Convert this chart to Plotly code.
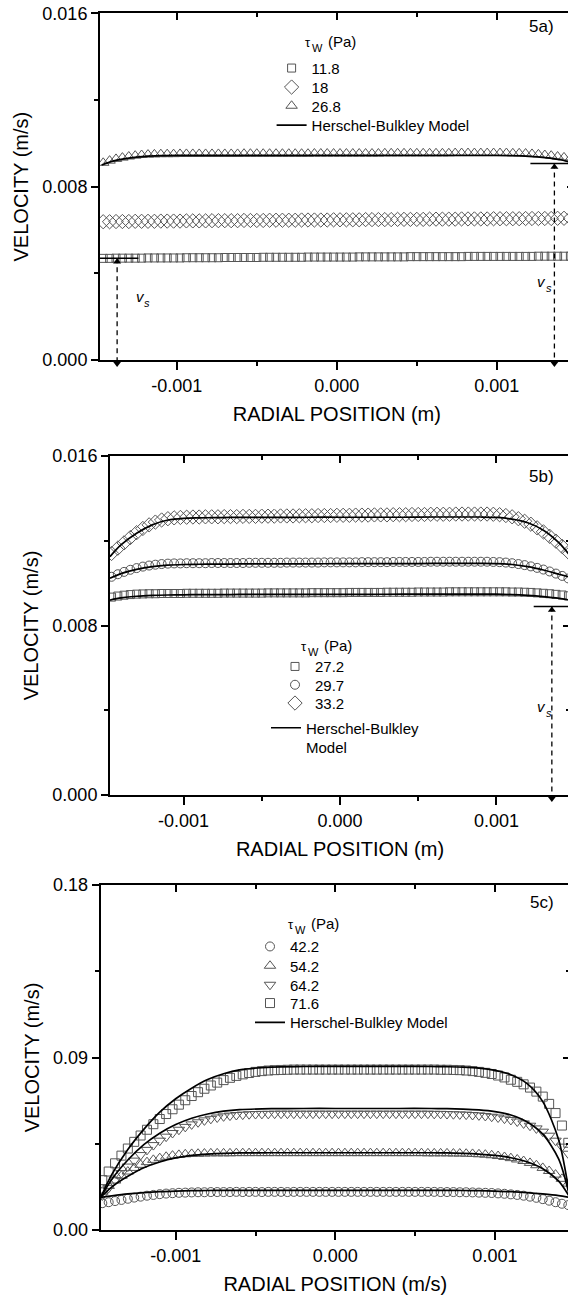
import plotly.graph_objects as go

W, H = 580, 1295
FONT = "Liberation Sans, Arial, Helvetica, sans-serif"
GREY = "#555555"

# ---------------- data ----------------
# radial positions of the measured points (units of 1e-5 m)
X_DATA_E5 = [-146, -142, -138, -134, -130, -126, -122, -118, -114, -110,
             -106, -102, -98, -94, -90, -86, -82, -78, -74, -70,
             -66, -62, -58, -54, -50, -46, -42, -38, -34, -30,
             -26, -22, -18, -14, -10, -6, -2, 2, 6, 10,
             14, 18, 22, 26, 30, 34, 38, 42, 46, 50,
             54, 58, 62, 66, 70, 74, 78, 82, 86, 90,
             94, 98, 102, 106, 110, 114, 118, 122, 126, 130,
             134, 138, 142, 146]
# radial positions of the model curves (units of 1e-5 m)
X_MODEL_E5 = [-147, -140, -130, -120, -110, -100, -90, -80, -70, -60, -40, -20, 0,
              20, 40, 60, 70, 80, 90, 100, 110, 120, 130, 140, 147]

# ---- panel 5a (velocity, units of 1e-4 m/s)
A_118 = [46.9, 46.9, 47.0, 47.0, 47.0, 47.0, 47.0, 47.1, 47.1, 47.1,
         47.1, 47.1, 47.1, 47.2, 47.2, 47.2, 47.2, 47.2, 47.2, 47.3,
         47.3, 47.3, 47.3, 47.3, 47.3, 47.4, 47.4, 47.4, 47.4, 47.4,
         47.4, 47.4, 47.5, 47.5, 47.5, 47.5, 47.5, 47.5, 47.5, 47.5,
         47.6, 47.6, 47.6, 47.6, 47.6, 47.6, 47.6, 47.6, 47.7, 47.7,
         47.7, 47.7, 47.7, 47.7, 47.7, 47.7, 47.7, 47.8, 47.8, 47.8,
         47.8, 47.8, 47.8, 47.8, 47.8, 47.8, 47.8, 47.8, 47.9, 47.9,
         47.9, 47.9, 47.9, 47.9]
A_18 = [63.8, 63.8, 63.9, 63.9, 63.9, 64.0, 64.0, 64.0, 64.0, 64.1,
        64.1, 64.1, 64.1, 64.2, 64.2, 64.2, 64.2, 64.3, 64.3, 64.3,
        64.3, 64.3, 64.4, 64.4, 64.4, 64.4, 64.5, 64.5, 64.5, 64.5,
        64.5, 64.6, 64.6, 64.6, 64.6, 64.6, 64.7, 64.7, 64.7, 64.7,
        64.7, 64.8, 64.8, 64.8, 64.8, 64.8, 64.9, 64.9, 64.9, 64.9,
        64.9, 65.0, 65.0, 65.0, 65.0, 65.0, 65.1, 65.1, 65.1, 65.1,
        65.1, 65.2, 65.2, 65.2, 65.2, 65.2, 65.3, 65.3, 65.3, 65.3,
        65.3, 65.4, 65.4, 65.4]
A_268 = [91.0, 92.0, 92.8, 93.4, 93.9, 94.3, 94.6, 94.8, 94.9, 95.0,
         95.0, 95.0, 95.1, 95.1, 95.1, 95.1, 95.1, 95.1, 95.1, 95.1,
         95.1, 95.1, 95.2, 95.2, 95.2, 95.2, 95.2, 95.2, 95.2, 95.2,
         95.2, 95.2, 95.2, 95.3, 95.3, 95.3, 95.3, 95.3, 95.3, 95.3,
         95.3, 95.3, 95.3, 95.3, 95.4, 95.4, 95.4, 95.4, 95.4, 95.4,
         95.4, 95.4, 95.4, 95.4, 95.4, 95.5, 95.5, 95.5, 95.5, 95.5,
         95.5, 95.5, 95.5, 95.5, 95.4, 95.4, 95.3, 95.1, 94.9, 94.6,
         94.3, 93.9, 93.5, 93.0]
HB_A_268 = [90.0, 91.8, 93.2, 94.0, 94.3, 94.4, 94.4, 94.4, 94.4, 94.4, 94.4, 94.4, 94.4,
            94.4, 94.4, 94.4, 94.4, 94.4, 94.4, 94.4, 94.3, 94.0, 93.4, 92.4, 91.0]
VS_A = [47.0, 90.7]             # slip velocity marks (1e-4 m/s)
VS_A_X_E5 = [-137.3, 136.0]     # position of the vs arrows (1e-5 m)
VS_A_BAR_E5 = [(-148, -124), (121, 148)]
VS_A_LABEL = [(-123, 29.2), (128, 36.0)]

# ---- panel 5b (velocity, units of 1e-4 m/s)
B_272 = [93.4, 93.9, 94.3, 94.6, 94.8, 94.9, 95.0, 95.0, 95.1, 95.1,
         95.1, 95.1, 95.2, 95.2, 95.2, 95.2, 95.2, 95.2, 95.3, 95.3,
         95.3, 95.3, 95.3, 95.3, 95.3, 95.4, 95.4, 95.4, 95.4, 95.4,
         95.4, 95.4, 95.5, 95.5, 95.5, 95.5, 95.5, 95.5, 95.6, 95.6,
         95.6, 95.6, 95.6, 95.6, 95.7, 95.7, 95.7, 95.7, 95.7, 95.8,
         95.8, 95.8, 95.8, 95.8, 95.9, 95.9, 95.9, 95.9, 95.9, 95.9,
         95.9, 95.9, 95.9, 95.9, 95.8, 95.8, 95.7, 95.6, 95.4, 95.2,
         95.0, 94.7, 94.4, 94.0]
B_297 = [103.0, 104.2, 105.3, 106.3, 107.1, 107.8, 108.3, 108.7, 109.0, 109.2,
         109.3, 109.3, 109.4, 109.4, 109.4, 109.4, 109.5, 109.5, 109.5, 109.5,
         109.5, 109.5, 109.6, 109.6, 109.6, 109.6, 109.6, 109.6, 109.7, 109.7,
         109.7, 109.7, 109.7, 109.7, 109.8, 109.8, 109.8, 109.8, 109.8, 109.8,
         109.9, 109.9, 109.9, 109.9, 109.9, 110.0, 110.0, 110.0, 110.0, 110.0,
         110.0, 110.1, 110.1, 110.1, 110.1, 110.1, 110.1, 110.1, 110.1, 110.1,
         110.1, 110.0, 109.9, 109.7, 109.4, 109.0, 108.5, 107.9, 107.2, 106.4,
         105.5, 104.5, 103.4, 102.2]
B_332 = [114.0, 116.5, 119.0, 121.5, 123.8, 125.8, 127.5, 128.8, 129.8, 130.4,
         130.8, 131.0, 131.1, 131.2, 131.2, 131.3, 131.3, 131.3, 131.4, 131.4,
         131.4, 131.5, 131.5, 131.5, 131.6, 131.6, 131.6, 131.7, 131.7, 131.7,
         131.8, 131.8, 131.8, 131.9, 131.9, 131.9, 132.0, 132.0, 132.0, 132.1,
         132.1, 132.1, 132.2, 132.2, 132.2, 132.3, 132.3, 132.3, 132.4, 132.4,
         132.4, 132.5, 132.5, 132.5, 132.5, 132.6, 132.6, 132.6, 132.6, 132.6,
         132.6, 132.5, 132.3, 131.9, 131.3, 130.4, 129.2, 127.8, 126.1, 124.2,
         122.1, 119.8, 117.3, 114.6]
HB_B_272 = [92.0, 93.0, 93.8, 94.2, 94.4, 94.5, 94.6, 94.6, 94.6, 94.7, 94.7, 94.7, 94.7,
            94.7, 94.8, 94.8, 94.8, 94.8, 94.8, 94.8, 94.6, 94.2, 93.6, 92.8, 92.0]
HB_B_297 = [102.3, 104.5, 106.5, 107.8, 108.5, 108.8, 108.9, 109.0, 109.0, 109.1, 109.1, 109.1, 109.2,
            109.2, 109.2, 109.3, 109.3, 109.3, 109.3, 109.2, 108.8, 107.8, 106.2, 104.2, 102.8]
HB_B_332 = [112.5, 118.0, 123.5, 127.5, 129.8, 130.6, 130.8, 130.9, 131.0, 131.0, 131.0, 131.1, 131.1,
            131.1, 131.1, 131.2, 131.2, 131.2, 131.2, 131.0, 130.2, 128.5, 125.0, 119.0, 113.0]
VS_B = [89.0]
VS_B_X_E5 = [135.4]
VS_B_BAR_E5 = [(123.8, 148)]
VS_B_LABEL = [(129, 41.7)]

# ---- panel 5c (velocity, units of 1e-3 m/s)
C_422 = [14.0, 14.5, 15.1, 15.7, 16.3, 16.9, 17.4, 17.9, 18.3, 18.7,
         19.0, 19.2, 19.4, 19.5, 19.6, 19.7, 19.7, 19.8, 19.8, 19.8,
         19.8, 19.9, 19.8, 19.9, 19.9, 19.8, 19.9, 19.9, 19.9, 19.8,
         19.9, 19.9, 19.9, 19.9, 19.9, 19.9, 19.9, 19.9, 19.9, 19.9,
         19.9, 19.9, 19.9, 19.9, 19.9, 19.9, 19.9, 19.9, 19.9, 19.9,
         19.9, 19.9, 19.9, 19.8, 19.8, 19.8, 19.7, 19.7, 19.6, 19.5,
         19.4, 19.3, 19.1, 18.9, 18.6, 18.3, 17.9, 17.4, 16.8, 16.1,
         15.3, 14.5, 13.7, 13.0]
C_542 = [20.0, 23.0, 25.8, 28.3, 30.5, 32.4, 34.0, 35.4, 36.6, 37.5,
         38.2, 38.8, 39.2, 39.5, 39.7, 39.8, 39.9, 40.0, 40.0, 40.0,
         40.0, 40.1, 40.1, 40.1, 40.1, 40.1, 40.1, 40.1, 40.1, 40.1,
         40.1, 40.1, 40.1, 40.1, 40.1, 40.1, 40.1, 40.1, 40.1, 40.1,
         40.1, 40.1, 40.1, 40.1, 40.1, 40.1, 40.1, 40.1, 40.1, 40.1,
         40.1, 40.0, 40.0, 40.0, 40.0, 39.9, 39.9, 39.8, 39.7, 39.5,
         39.3, 39.0, 38.6, 38.1, 37.5, 36.8, 36.0, 35.0, 33.8, 32.4,
         30.8, 28.9, 26.7, 24.2]
C_642 = [18.0, 22.0, 26.0, 29.7, 33.1, 36.2, 39.1, 41.8, 44.3, 46.6,
         48.7, 50.6, 52.3, 53.8, 55.1, 56.2, 57.2, 58.0, 58.7, 59.3,
         59.7, 60.0, 60.2, 60.4, 60.5, 60.6, 60.6, 60.7, 60.7, 60.7,
         60.7, 60.7, 60.7, 60.7, 60.7, 60.7, 60.7, 60.7, 60.7, 60.7,
         60.7, 60.7, 60.7, 60.7, 60.7, 60.7, 60.7, 60.7, 60.7, 60.7,
         60.7, 60.7, 60.6, 60.6, 60.5, 60.4, 60.3, 60.2, 60.0, 59.8,
         59.5, 59.1, 58.7, 58.1, 57.4, 56.6, 55.6, 54.4, 53.0, 51.3,
         49.2, 46.6, 43.5, 39.8]
C_716 = [26.0, 30.5, 34.8, 38.8, 42.5, 46.0, 49.3, 52.3, 55.2, 57.9,
         60.5, 63.0, 65.4, 67.7, 69.9, 71.9, 73.7, 75.4, 76.9, 78.2,
         79.4, 80.4, 81.2, 81.9, 82.5, 82.9, 83.2, 83.4, 83.5, 83.6,
         83.7, 83.7, 83.7, 83.7, 83.7, 83.7, 83.7, 83.7, 83.7, 83.7,
         83.7, 83.7, 83.7, 83.7, 83.7, 83.7, 83.7, 83.7, 83.7, 83.7,
         83.7, 83.7, 83.7, 83.6, 83.6, 83.5, 83.4, 83.2, 82.9, 82.5,
         82.0, 81.4, 80.6, 79.6, 78.4, 77.3, 76.0, 74.3, 72.2, 69.6,
         65.8, 61.0, 54.5, 45.5]
HB_C_422 = [17.0, 17.8, 18.8, 19.5, 20.0, 20.3, 20.5, 20.6, 20.7, 20.7, 20.7, 20.7, 20.7,
            20.7, 20.7, 20.7, 20.7, 20.6, 20.5, 20.3, 20.0, 19.5, 18.8, 17.9, 17.0]
HB_C_542 = [17.0, 22.5, 28.0, 32.5, 35.5, 37.6, 38.9, 39.6, 40.0, 40.2, 40.3, 40.3, 40.3,
            40.3, 40.3, 40.3, 40.2, 40.0, 39.6, 38.9, 37.7, 35.6, 32.0, 25.5, 17.0]
HB_C_642 = [17.0, 26.5, 36.5, 44.5, 50.5, 55.0, 58.3, 60.5, 62.0, 62.8, 63.3, 63.4, 63.4,
            63.4, 63.4, 63.4, 63.3, 63.1, 62.7, 61.8, 60.0, 56.5, 50.0, 37.0, 17.0]
HB_C_716 = [17.0, 29.0, 42.0, 52.5, 61.5, 68.5, 74.0, 78.5, 81.5, 83.5, 85.0, 85.3, 85.4,
            85.4, 85.4, 85.3, 85.2, 85.0, 84.5, 83.3, 81.0, 76.5, 67.0, 47.0, 17.0]

# axis ticks and titles
X_TICKS = [-0.001, 0.0, 0.001]
X_TICK_TEXT = ["-0.001", "0.000", "0.001"]
Y_TICKS_AB = [0.0, 0.008, 0.016]
Y_TICK_TEXT_AB = ["0.000", "0.008", "0.016"]
Y_TICKS_C = [0.0, 0.09, 0.18]
Y_TICK_TEXT_C = ["0.00", "0.09", "0.18"]
X_TITLES = ["RADIAL POSITION (m)", "RADIAL POSITION (m)", "RADIAL POSITION (m/s)"]
Y_TITLE = "VELOCITY (m/s)"

# ---------------- layout helpers ----------------
def pxx(x):
    return x / W


def pxy(y):
    return 1 - y / H


def sc(vals, f):
    return [v * f for v in vals]


XD = sc(X_DATA_E5, 1e-5)
XM = sc(X_MODEL_E5, 1e-5)

fig = go.Figure()
layout = {}
LEGFONT = dict(family=FONT, size=15, color="black")
_leg_count = [0]


def new_legend(xleft, ycenter, valign="middle"):
    _leg_count[0] += 1
    k = _leg_count[0]
    name = "legend" if k == 1 else "legend%d" % k
    layout[name] = dict(x=pxx(xleft), y=pxy(ycenter), xanchor="left", yanchor="middle",
                        font=LEGFONT, bgcolor="rgba(0,0,0,0)", borderwidth=0,
                        tracegroupgap=0, valign=valign)
    return name


PANELS = [
    dict(n="", top="4", xpx=(100, 573.6), ypx=(13.3, 360), xr=[-0.00148, 0.00148],
         yr=[0, 0.016], yt=Y_TICKS_AB, ytt=Y_TICK_TEXT_AB, ydt=0.004, xt=X_TITLES[0]),
    dict(n="2", top="5", xpx=(110, 570), ypx=(456, 795), xr=[-0.00147, 0.00147],
         yr=[0, 0.016], yt=Y_TICKS_AB, ytt=Y_TICK_TEXT_AB, ydt=0.004, xt=X_TITLES[1]),
    dict(n="3", top="6", xpx=(100.7, 569.9), ypx=(885, 1230), xr=[-0.00147, 0.00147],
         yr=[0, 0.18], yt=Y_TICKS_C, ytt=Y_TICK_TEXT_C, ydt=0.045, xt=X_TITLES[2]),
]


def mk(panel, x, y, symbol, size, name, leg):
    return go.Scatter(x=x, y=y, mode="markers", name=name, legend=leg,
                      xaxis="x" + panel["n"], yaxis="y" + panel["n"],
                      marker=dict(symbol=symbol, size=size, color=GREY, line=dict(width=1, color=GREY)))


def ln(panel, x, y, leg=None, legend_name="Herschel-Bulkley Model"):
    kw = dict(legend=leg, showlegend=True) if leg else dict(showlegend=False)
    return go.Scatter(x=x, y=y, mode="lines", name=legend_name,
                      xaxis="x" + panel["n"], yaxis="y" + panel["n"],
                      line=dict(color="black", width=1.7, shape="spline", smoothing=0.8), **kw)


def vs_traces(panel, xs_e5, vs_vals, bars_e5, fy):
    out = []
    for xv, v, bar in zip(xs_e5, vs_vals, bars_e5):
        xx = xv * 1e-5
        yy = v * fy
        out.append(go.Scatter(x=[bar[0] * 1e-5, bar[1] * 1e-5], y=[yy, yy], mode="lines",
                              showlegend=False, xaxis="x" + panel["n"], yaxis="y" + panel["n"],
                              line=dict(color="black", width=1.5), cliponaxis=False))
        out.append(go.Scatter(x=[xx, xx], y=[yy, 0], mode="lines", showlegend=False,
                              xaxis="x" + panel["n"], yaxis="y" + panel["n"],
                              line=dict(color="black", width=1.3, dash="5px,4px")))
        out.append(go.Scatter(x=[xx], y=[yy], mode="markers", showlegend=False,
                              xaxis="x" + panel["n"], yaxis="y" + panel["n"], cliponaxis=False,
                              marker=dict(symbol="triangle-up", size=7, color="black", standoff=3.5)))
        out.append(go.Scatter(x=[xx], y=[0], mode="markers", showlegend=False,
                              xaxis="x" + panel["n"], yaxis="y" + panel["n"], cliponaxis=False,
                              marker=dict(symbol="triangle-down", size=7, color="black", standoff=3.5)))
    return out


pa, pb, pc = PANELS
# panel a  (legend rows: text starts at x=311.6)
fig.add_trace(mk(pa, XD, sc(A_118, 1e-4), "square-open", 8, "11.8", new_legend(271.6, 68.3)))
fig.add_trace(mk(pa, XD, sc(A_18, 1e-4), "diamond-open", 11, "18", new_legend(271.6, 87.3)))
fig.add_trace(mk(pa, XD, sc(A_268, 1e-4), "triangle-up-open", 10, "26.8", new_legend(271.6, 106)))
fig.add_trace(ln(pa, XM, sc(HB_A_268, 1e-4), leg=new_legend(271.6, 125.3)))
for t in vs_traces(pa, VS_A_X_E5, VS_A, VS_A_BAR_E5, 1e-4):
    fig.add_trace(t)

# panel b
fig.add_trace(mk(pb, XD, sc(B_272, 1e-4), "square-open", 8, "27.2", new_legend(275, 666.7)))
fig.add_trace(mk(pb, XD, sc(B_297, 1e-4), "circle-open", 9, "29.7", new_legend(275, 685)))
fig.add_trace(mk(pb, XD, sc(B_332, 1e-4), "diamond-open", 11, "33.2", new_legend(275, 703.3)))
fig.add_trace(ln(pb, XM, sc(HB_B_272, 1e-4), leg=new_legend(266, 737.5, valign="top"),
                 legend_name="Herschel-Bulkley<br>Model"))
fig.add_trace(ln(pb, XM, sc(HB_B_297, 1e-4)))
fig.add_trace(ln(pb, XM, sc(HB_B_332, 1e-4)))
for t in vs_traces(pb, VS_B_X_E5, VS_B, VS_B_BAR_E5, 1e-4):
    fig.add_trace(t)

# panel c
fig.add_trace(mk(pc, XD, sc(C_422, 1e-3), "circle-open", 9, "42.2", new_legend(250, 946.7)))
fig.add_trace(mk(pc, XD, sc(C_542, 1e-3), "triangle-up-open", 10, "54.2", new_legend(250, 966)))
fig.add_trace(mk(pc, XD, sc(C_642, 1e-3), "triangle-down-open", 10, "64.2", new_legend(250, 985)))
fig.add_trace(mk(pc, XD, sc(C_716, 1e-3), "square-open", 9, "71.6", new_legend(250, 1003.3)))
fig.add_trace(ln(pc, XM, sc(HB_C_422, 1e-3), leg=new_legend(250, 1022.7)))
fig.add_trace(ln(pc, XM, sc(HB_C_542, 1e-3)))
fig.add_trace(ln(pc, XM, sc(HB_C_642, 1e-3)))
fig.add_trace(ln(pc, XM, sc(HB_C_716, 1e-3)))

TICKFONT = dict(family=FONT, size=18, color="black")
TITLEFONT = dict(family=FONT, size=20, color="black")
for p in PANELS:
    n, t = p["n"], p["top"]
    xdom = [pxx(p["xpx"][0]), pxx(p["xpx"][1])]
    ydom = [pxy(p["ypx"][1]), pxy(p["ypx"][0])]
    layout["xaxis" + n] = dict(domain=xdom, range=p["xr"], anchor="y" + n, side="bottom",
                               tickmode="array", tickvals=X_TICKS, ticktext=X_TICK_TEXT,
                               ticks="outside", ticklen=8, tickwidth=1.5, tickcolor="black",
                               minor=dict(ticks="outside", ticklen=4, tickwidth=1.5, tickcolor="black",
                                          dtick=0.0005, tick0=0, tickmode="linear"),
                               showline=True, linewidth=2, linecolor="black", showgrid=False,
                               zeroline=False, tickfont=TICKFONT, automargin=False, fixedrange=True,
                               title=dict(text=p["xt"], font=TITLEFONT, standoff=12))
    layout["yaxis" + n] = dict(domain=ydom, range=p["yr"], anchor="x" + n, side="left",
                               tickmode="array", tickvals=p["yt"], ticktext=p["ytt"],
                               ticks="outside", ticklen=7, tickwidth=1.5, tickcolor="black",
                               minor=dict(ticks="outside", ticklen=4, tickwidth=1.5, tickcolor="black",
                                          dtick=p["ydt"], tick0=0, tickmode="linear"),
                               showline=True, linewidth=2, linecolor="black", showgrid=False,
                               zeroline=False, tickfont=TICKFONT, automargin=False, fixedrange=True,
                               title=dict(text=Y_TITLE, font=TITLEFONT, standoff=8))
    layout["xaxis" + t] = dict(overlaying="x" + n, anchor="y" + n, side="top", range=p["xr"],
                               tickmode="array", tickvals=X_TICKS, showticklabels=False,
                               ticks="inside", ticklen=7, tickwidth=1.5, tickcolor="black",
                               minor=dict(ticks="inside", ticklen=4, tickwidth=1.5, tickcolor="black",
                                          dtick=0.0005, tick0=0, tickmode="linear"),
                               showline=True, linewidth=2, linecolor="black", showgrid=False,
                               zeroline=False, automargin=False, fixedrange=True)
    layout["yaxis" + t] = dict(overlaying="y" + n, anchor="x" + n, side="right", range=p["yr"],
                               tickmode="array", tickvals=p["yt"], showticklabels=False,
                               ticks="inside", ticklen=7, tickwidth=1.5, tickcolor="black",
                               minor=dict(ticks="inside", ticklen=4, tickwidth=1.5, tickcolor="black",
                                          dtick=p["ydt"], tick0=0, tickmode="linear"),
                               showline=True, linewidth=2, linecolor="black", showgrid=False,
                               zeroline=False, automargin=False, fixedrange=True)
    # empty traces so that the mirrored axes are drawn
    fig.add_trace(go.Scatter(x=[], y=[], xaxis="x" + t, yaxis="y" + n, showlegend=False))
    fig.add_trace(go.Scatter(x=[], y=[], xaxis="x" + n, yaxis="y" + t, showlegend=False))

ann = []
# legend titles: tau with subscript W, then (Pa)
for (xp, yp) in [(302.5, 43), (299, 646.5), (286, 924.5)]:
    ann.append(dict(text="τ", x=pxx(xp), y=pxy(yp), xref="paper", yref="paper", xanchor="left",
                    yanchor="middle", showarrow=False, font=dict(family=FONT, size=13, color="black")))
    ann.append(dict(text="W", x=pxx(xp), y=pxy(yp), xref="paper", yref="paper", xanchor="left",
                    yanchor="middle", xshift=7, yshift=-5, showarrow=False,
                    font=dict(family=FONT, size=11, color="black")))
    ann.append(dict(text="(Pa)", x=pxx(xp), y=pxy(yp), xref="paper", yref="paper", xanchor="left",
                    yanchor="middle", xshift=23, yshift=1, showarrow=False, font=LEGFONT))
for (lab, xp, yp) in [("5a)", 556, 26.7), ("5b)", 556, 476), ("5c)", 556, 902.5)]:
    ann.append(dict(text=lab, x=pxx(xp), y=pxy(yp), xref="paper", yref="paper", xanchor="right",
                    yanchor="middle", showarrow=False, font=dict(family=FONT, size=17, color="black")))


def vs_label(xl, yl, xref, yref):
    return [dict(text="<i>v</i>", x=xl, y=yl, xref=xref, yref=yref, xanchor="center",
                 yanchor="middle", showarrow=False, font=dict(family=FONT, size=15, color="black")),
            dict(text="<i>s</i>", x=xl, y=yl, xref=xref, yref=yref, xanchor="center",
                 yanchor="middle", xshift=7, yshift=-6, showarrow=False,
                 font=dict(family=FONT, size=11, color="black"))]


for (xl, yl) in VS_A_LABEL:
    ann += vs_label(xl * 1e-5, yl * 1e-4, "x", "y")
for (xl, yl) in VS_B_LABEL:
    ann += vs_label(xl * 1e-5, yl * 1e-4, "x2", "y2")

fig.update_layout(**layout)
fig.update_layout(width=W, height=H, margin=dict(l=0, r=0, t=0, b=0), autosize=False,
                  paper_bgcolor="white", plot_bgcolor="white", annotations=ann,
                  font=dict(family=FONT, color="black"), showlegend=True)

fig.write_html("out.html", config={"displayModeBar": False},
               post_script="document.body.style.margin='0';document.body.style.overflow='hidden';")
